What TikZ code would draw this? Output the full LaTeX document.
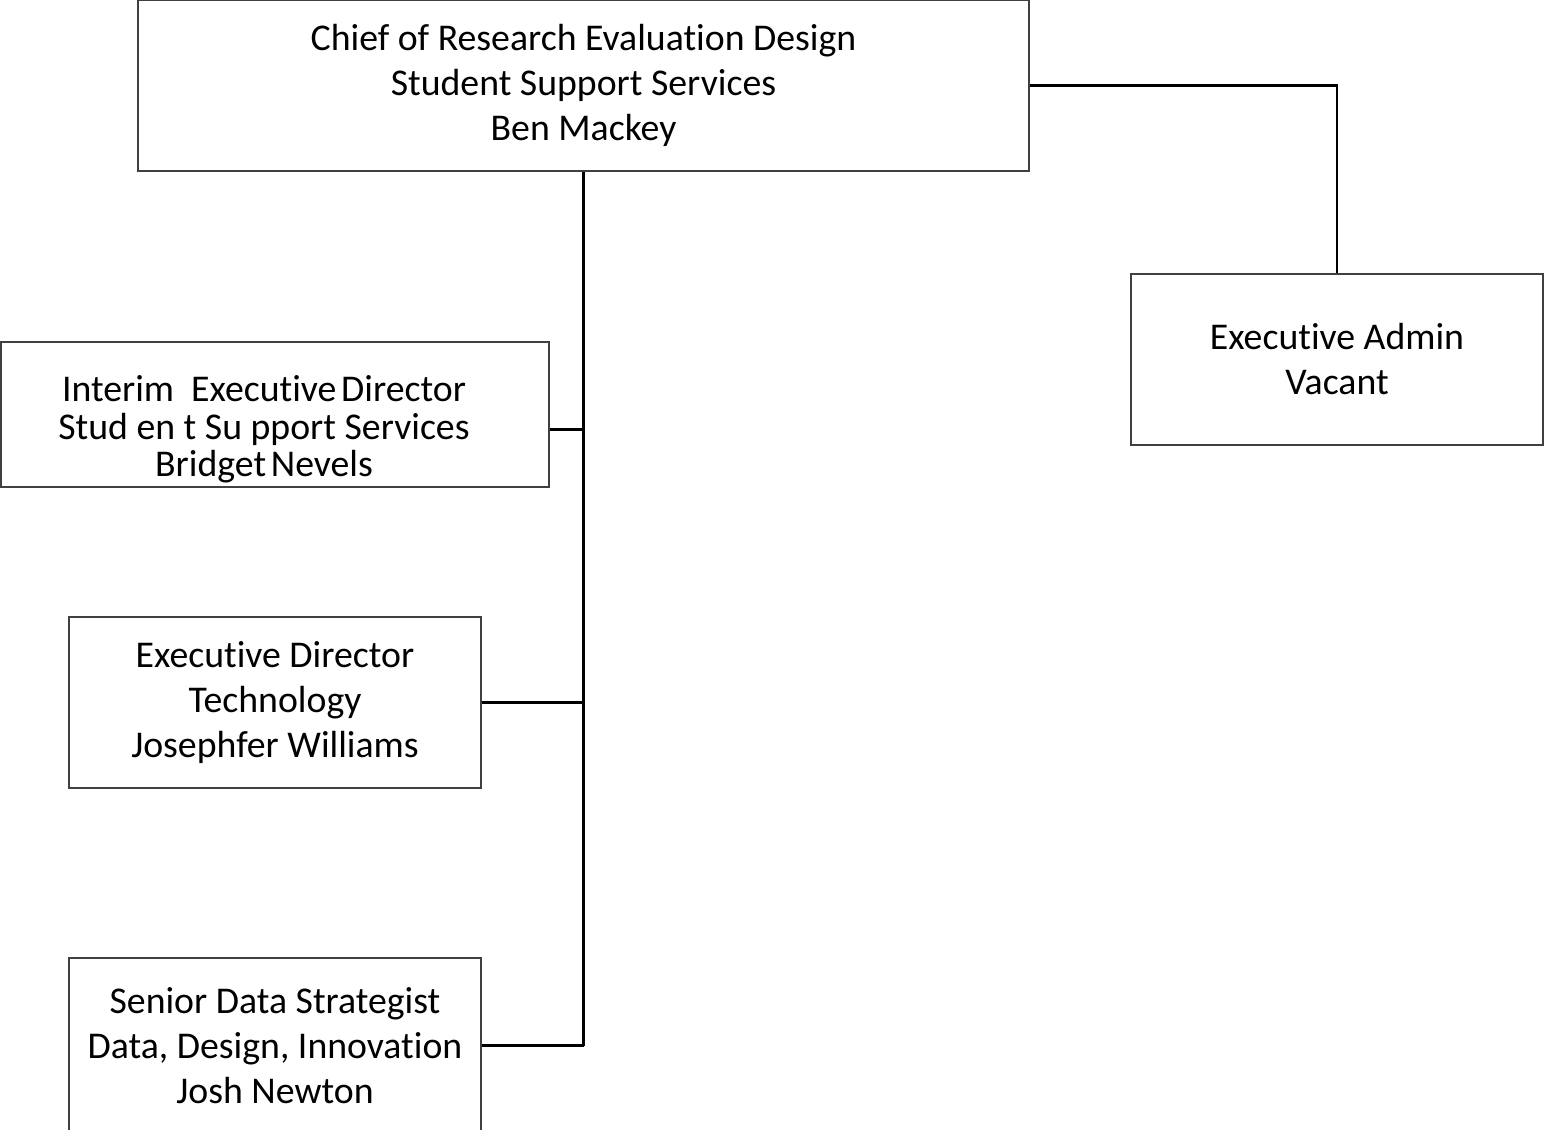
\documentclass[tikz,border=0pt]{standalone}
\usepackage{fontspec}
\setmainfont{Carlito}[Ligatures=NoCommon]
\usepackage{xcolor}
\definecolor{boxline}{HTML}{404040}

\begin{document}
\begin{tikzpicture}[
    post/.style={draw=boxline, line width=0.6pt, align=center, inner sep=0pt,
                 font=\fontsize{21.5}{25.6}\selectfont},
    link/.style={draw=black, line width=1.4pt}
  ]
  \useasboundingbox (0,0) rectangle (30.88,-22.6);

  \node[post, minimum width=17.82cm, minimum height=3.42cm] (chief) at (11.67, -1.71)
    {Chief of Research Evaluation Design\\Student Support Services\\Ben Mackey};
  \node[post, minimum width=8.24cm, minimum height=3.42cm] (admin) at (26.74, -7.19)
    {Executive Admin\\Vacant};
  \node[post, minimum width=10.96cm, minimum height=2.90cm] (interim) at (5.50, -8.29) {};
  \node[align=center, inner sep=0pt, font=\fontsize{21.5}{21.3}\selectfont]
    (interimtext) at (5.28, -8.59)
    {Interim \ Executive\kern-0.1em\ Director\\Stud en t Su pport Services\\Bridget\kern-0.1em\ Nevels};
  \node[post, minimum width=8.24cm, minimum height=3.42cm] (tech) at (5.50, -14.05)
    {Executive Director\\Technology\\Josephfer Williams};
  \node[post, minimum width=8.24cm, minimum height=3.50cm] (senior) at (5.50, -20.91)
    {Senior Data Strategist\\Data, Design, Innovation\\Josh Newton};

  \coordinate (trunk) at (chief.south |- senior.east);

  \draw[link] (chief.south) -- (trunk);
  \draw[link] (interimtext -| interim.east) -- (interimtext -| chief.south);
  \draw[link] (tech.east) -- (tech.east -| chief.south);
  \draw[link] (senior.east) -- (trunk);
  \draw[link] (chief.east) -| (admin.north);
\end{tikzpicture}
\end{document}
